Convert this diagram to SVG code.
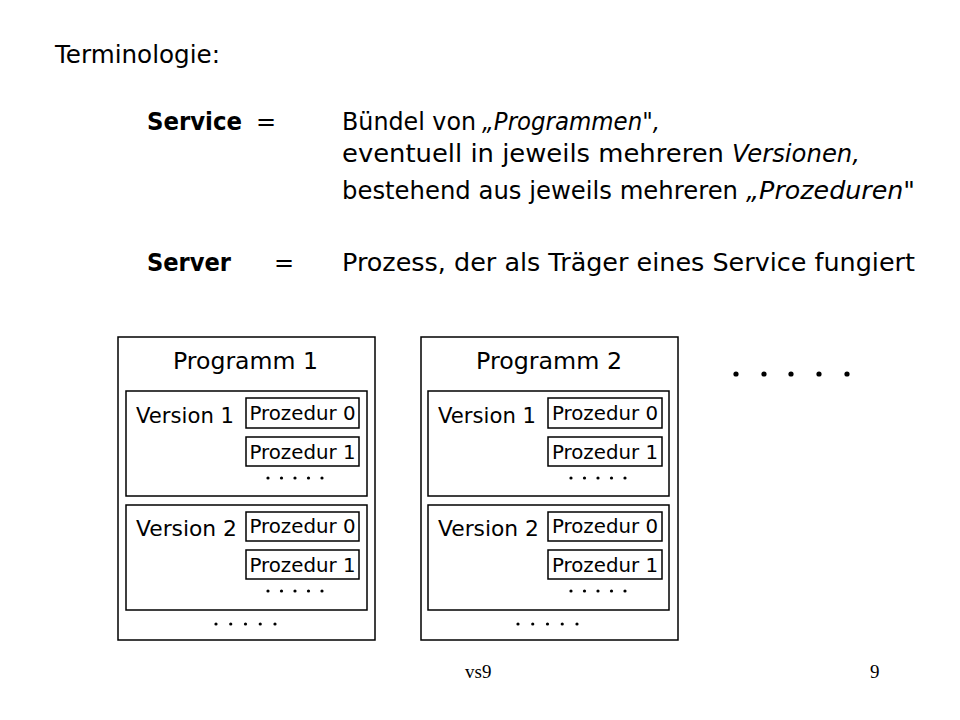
<svg xmlns="http://www.w3.org/2000/svg" width="960" height="720" viewBox="0 0 960 720">
<style>
.t{font-family:"DejaVu Sans","Liberation Sans",sans-serif;fill:#000}
.h{font-size:24px}
.b{font-weight:bold}
.it{font-style:italic}
.big{font-size:23px}
.ver{font-size:22px}
.pz{font-size:19px}
.box{fill:#fff;stroke:#000;stroke-width:1.5}
.ft{font-family:"Liberation Serif",serif;font-size:19px;fill:#000}
</style>
<defs>
<g id="dots5">
<circle cx="0" cy="0" r="1.6"/><circle cx="13.5" cy="0" r="1.6"/><circle cx="27" cy="0" r="1.6"/><circle cx="40.5" cy="0" r="1.6"/><circle cx="54" cy="0" r="1.6"/>
</g>
<g id="dots5w">
<circle cx="0" cy="0" r="1.6"/><circle cx="14.75" cy="0" r="1.6"/><circle cx="29.5" cy="0" r="1.6"/><circle cx="44.25" cy="0" r="1.6"/><circle cx="59" cy="0" r="1.6"/>
</g>
</defs>
<rect width="960" height="720" fill="#fff"/>

<g id="header">
<text class="t h" x="55" y="63" textLength="165" lengthAdjust="spacingAndGlyphs">Terminologie:</text>
<text class="t h b" x="147" y="130" textLength="95" lengthAdjust="spacingAndGlyphs">Service</text>
<text class="t h" x="266" y="130" text-anchor="middle">=</text>
<text class="t h" x="342" y="130" textLength="134" lengthAdjust="spacingAndGlyphs">Bündel von</text>
<text class="t h it" x="482" y="130" textLength="178" lengthAdjust="spacingAndGlyphs">„Programmen",</text>
<text class="t h" x="342" y="162" textLength="382" lengthAdjust="spacingAndGlyphs">eventuell in jeweils mehreren</text>
<text class="t h it" x="732" y="162" textLength="128" lengthAdjust="spacingAndGlyphs">Versionen,</text>
<text class="t h" x="342" y="199" textLength="396" lengthAdjust="spacingAndGlyphs">bestehend aus jeweils mehreren</text>
<text class="t h it" x="746" y="199" textLength="169" lengthAdjust="spacingAndGlyphs">„Prozeduren"</text>
<text class="t h b" x="147" y="271" textLength="84" lengthAdjust="spacingAndGlyphs">Server</text>
<text class="t h" x="284" y="271" text-anchor="middle">=</text>
<text class="t h" x="342" y="271" textLength="573" lengthAdjust="spacingAndGlyphs">Prozess, der als Träger eines Service fungiert</text>
</g>

<g id="programm1">
<rect class="box" x="118" y="337" width="257" height="303"/>
<text class="t big" x="245.5" y="369" text-anchor="middle" textLength="145" lengthAdjust="spacingAndGlyphs">Programm 1</text>
<g id="p1v1">
<rect class="box" x="126" y="391" width="241" height="105"/>
<text class="t ver" x="136" y="423" textLength="98" lengthAdjust="spacingAndGlyphs">Version 1</text>
<rect class="box" x="246" y="398" width="113" height="30"/>
<text class="t pz" x="302.5" y="420" text-anchor="middle" textLength="106" lengthAdjust="spacingAndGlyphs">Prozedur 0</text>
<rect class="box" x="246" y="437" width="113" height="29"/>
<text class="t pz" x="302.5" y="459" text-anchor="middle" textLength="106" lengthAdjust="spacingAndGlyphs">Prozedur 1</text>
<use href="#dots5" x="268" y="478"/>
</g>
<g id="p1v2">
<rect class="box" x="126" y="505" width="241" height="105"/>
<text class="t ver" x="136" y="536" textLength="101" lengthAdjust="spacingAndGlyphs">Version 2</text>
<rect class="box" x="246" y="512" width="113" height="29"/>
<text class="t pz" x="302.5" y="533" text-anchor="middle" textLength="106" lengthAdjust="spacingAndGlyphs">Prozedur 0</text>
<rect class="box" x="246" y="550" width="113" height="29"/>
<text class="t pz" x="302.5" y="572" text-anchor="middle" textLength="106" lengthAdjust="spacingAndGlyphs">Prozedur 1</text>
<use href="#dots5" x="268" y="591"/>
</g>
<use href="#dots5w" x="216" y="624"/>
</g>

<g id="programm2">
<rect class="box" x="421" y="337" width="257" height="303"/>
<text class="t big" x="549" y="369" text-anchor="middle" textLength="146" lengthAdjust="spacingAndGlyphs">Programm 2</text>
<g id="p2v1">
<rect class="box" x="428" y="391" width="241" height="105"/>
<text class="t ver" x="438" y="423" textLength="98" lengthAdjust="spacingAndGlyphs">Version 1</text>
<rect class="box" x="548" y="398" width="114" height="30"/>
<text class="t pz" x="605" y="420" text-anchor="middle" textLength="106" lengthAdjust="spacingAndGlyphs">Prozedur 0</text>
<rect class="box" x="548" y="437" width="114" height="29"/>
<text class="t pz" x="605" y="459" text-anchor="middle" textLength="106" lengthAdjust="spacingAndGlyphs">Prozedur 1</text>
<use href="#dots5" x="571" y="478"/>
</g>
<g id="p2v2">
<rect class="box" x="428" y="505" width="241" height="105"/>
<text class="t ver" x="438" y="536" textLength="101" lengthAdjust="spacingAndGlyphs">Version 2</text>
<rect class="box" x="548" y="512" width="114" height="29"/>
<text class="t pz" x="605" y="533" text-anchor="middle" textLength="106" lengthAdjust="spacingAndGlyphs">Prozedur 0</text>
<rect class="box" x="548" y="550" width="114" height="29"/>
<text class="t pz" x="605" y="572" text-anchor="middle" textLength="106" lengthAdjust="spacingAndGlyphs">Prozedur 1</text>
<use href="#dots5" x="571" y="591"/>
</g>
<use href="#dots5w" x="518" y="624"/>
</g>

<g id="more">
<circle cx="736" cy="374" r="2.6"/><circle cx="764" cy="374" r="2.6"/><circle cx="791" cy="374" r="2.6"/><circle cx="819" cy="374" r="2.6"/><circle cx="847" cy="374" r="2.6"/>
</g>

<g id="connectors"></g>

<g id="footer">
<text class="ft" x="465" y="678">vs9</text>
<text class="ft" x="870" y="678">9</text>
</g>
</svg>
